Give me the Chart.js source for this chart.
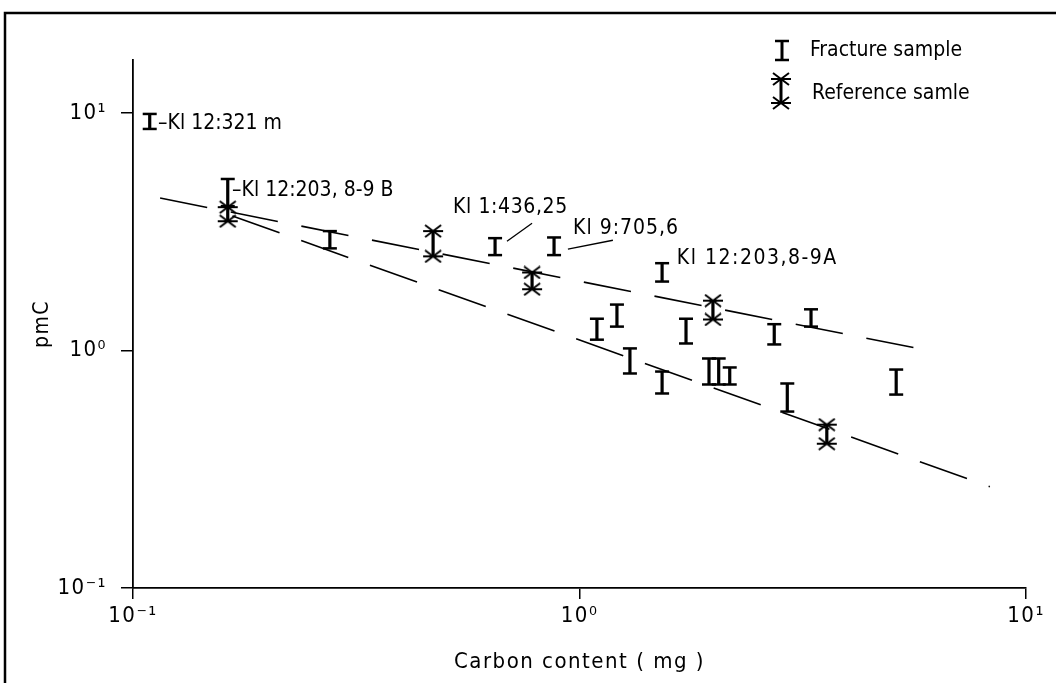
<!DOCTYPE html>
<html>
<head>
<meta charset="utf-8">
<script src="https://cdn.jsdelivr.net/npm/chart.js@4.4.1/dist/chart.umd.min.js"></script>
<style>
  body { margin: 0; background: #fff; }
  #graph { display: block; }
</style>
</head>
<body>
<canvas id="graph" width="1056" height="683"></canvas>
<script>
// Fracture samples: carbon content (mg), pmC low / high end of the bar
const fracX    = [0.109, 0.163, 0.276, 0.647, 0.877, 1.094, 1.213, 1.297, 1.531, 1.531, 1.732, 1.95, 2.05, 2.17, 2.73, 2.92, 3.30, 5.12];
const fracLow  = [8.56, 4.05, 2.69, 2.52, 2.52, 1.11, 1.26, 0.80, 1.95, 0.659, 1.07, 0.719, 0.719, 0.719, 1.06, 0.553, 1.26, 0.652];
const fracHigh = [9.90, 5.27, 3.18, 2.97, 2.99, 1.36, 1.56, 1.02, 2.33, 0.815, 1.36, 0.925, 0.925, 0.848, 1.29, 0.726, 1.49, 0.831];

// Reference samples
const refX    = [0.163, 0.470, 0.783, 1.99, 3.58];
const refLow  = [3.50, 2.49, 1.81, 1.35, 0.405];
const refHigh = [4.01, 3.18, 2.13, 1.62, 0.487];

// dashed trend lines (end points)
const upperLineX = [0.115, 5.88];
const upperLineY = [4.38, 1.01];
const lowerLineX = [0.167, 8.30];
const lowerLineY = [3.68, 0.267];

// sample names next to points
const noteText = ['\u2013Kl 12:321 m', '\u2013Kl 12:203, 8-9 B', 'Kl 1:436,25', 'Kl 9:705,6', 'Kl 12:203,8-9A'];
const noteX = [0.1138, 0.1667, 0.521, 0.967, 1.652];
const noteY = [8.99, 4.69, 4.01, 3.27, 2.44];
const noteSpacing = [0, 0, 0.6, 1, 1.5];

// short leader lines from two of the names
const leaderX = [[0.688, 0.783], [0.942, 1.188]];
const leaderY = [[2.88, 3.43], [2.67, 2.91]];

const tickValues = [0.1, 1, 10];
const tickLabels = ['10\u207B\u00B9', '10\u2070', '10\u00B9'];
const legendLabels = ['Fracture sample', 'Reference samle'];

const FONT = "'DejaVu Sans Condensed', 'Liberation Sans Narrow', 'DejaVu Sans', sans-serif";

// end cap of a reference bar: flat bar with a cross through it
function makeStarCap() {
    const c = document.createElement('canvas');
    c.width = 22;
    c.height = 14;
    const g = c.getContext('2d');
    g.strokeStyle = '#000';
    g.lineWidth = 2;
    g.beginPath();
    g.moveTo(1, 7); g.lineTo(21, 7);
    g.moveTo(3, 1); g.lineTo(19, 13);
    g.moveTo(3, 13); g.lineTo(19, 1);
    g.stroke();
    return c;
}
const starCap = makeStarCap();

const datasets = [];

fracX.forEach((x, i) => {
    datasets.push({
        data: [{x: x, y: fracLow[i]}, {x: x, y: fracHigh[i]}],
        showLine: true,
        borderColor: '#000',
        borderWidth: 3.2,
        pointStyle: 'line',
        pointRadius: 7,
        pointHoverRadius: 7,
        pointBorderWidth: 2.5,
        pointBorderColor: '#000'
    });
});

refX.forEach((x, i) => {
    datasets.push({
        data: [{x: x, y: refLow[i]}, {x: x, y: refHigh[i]}],
        showLine: true,
        borderColor: '#000',
        borderWidth: 3.2,
        pointStyle: starCap,
        pointRadius: 8,
        pointHoverRadius: 8
    });
});

datasets.push({
    data: upperLineX.map((x, i) => ({x: x, y: upperLineY[i]})),
    showLine: true,
    borderColor: '#000',
    borderWidth: 1.6,
    borderDash: [48, 24],
    pointRadius: 0
});
datasets.push({
    data: lowerLineX.map((x, i) => ({x: x, y: lowerLineY[i]})),
    showLine: true,
    borderColor: '#000',
    borderWidth: 1.6,
    borderDash: [50, 23],
    pointRadius: 0
});

leaderX.forEach((xs, i) => {
    datasets.push({
        data: xs.map((x, j) => ({x: x, y: leaderY[i][j]})),
        showLine: true,
        borderColor: '#000',
        borderWidth: 1.3,
        pointRadius: 0
    });
});

// draw a bar with caps, used for the legend icons
function drawBar(ctx, x, top, bottom, star) {
    ctx.lineWidth = 3;
    ctx.beginPath();
    ctx.moveTo(x, top);
    ctx.lineTo(x, bottom);
    ctx.stroke();
    if (star) {
        ctx.drawImage(starCap, x - 11, top - 7);
        ctx.drawImage(starCap, x - 11, bottom - 7);
    } else {
        ctx.lineWidth = 2.5;
        ctx.beginPath();
        ctx.moveTo(x - 7, top); ctx.lineTo(x + 7, top);
        ctx.moveTo(x - 7, bottom); ctx.lineTo(x + 7, bottom);
        ctx.stroke();
    }
}

const frame = {
    id: 'frame',
    beforeDraw(chart) {
        const ctx = chart.ctx;
        ctx.save();
        ctx.fillStyle = '#fff';
        ctx.fillRect(0, 0, chart.width, chart.height);
        ctx.strokeStyle = '#000';
        ctx.lineWidth = 2.5;
        ctx.beginPath();
        ctx.moveTo(5, chart.height);
        ctx.lineTo(5, 13);
        ctx.lineTo(chart.width, 13);
        ctx.stroke();
        ctx.restore();
        // the lettering on the original is widely spaced
        ctx.letterSpacing = '1.5px';
    }
};

const notes = {
    id: 'notes',
    afterDatasetsDraw(chart) {
        const ctx = chart.ctx;
        const xs = chart.scales.x, ys = chart.scales.y;
        ctx.save();
        ctx.fillStyle = '#000';
        ctx.strokeStyle = '#000';
        ctx.font = '21px ' + FONT;
        ctx.textBaseline = 'middle';
        noteText.forEach((t, i) => {
            ctx.letterSpacing = noteSpacing[i] + 'px';
            ctx.fillText(t, xs.getPixelForValue(noteX[i]), ys.getPixelForValue(noteY[i]));
        });

        // legend, top right
        ctx.letterSpacing = '0px';
        drawBar(ctx, 782, 41, 60, false);
        drawBar(ctx, 781, 79, 103, true);
        ctx.font = '21px ' + FONT;
        ctx.fillText(legendLabels[0], 810, 51);
        ctx.fillText(legendLabels[1], 812, 94);
        ctx.restore();
    }
};

const axisCommon = {
    type: 'logarithmic',
    grid: {
        display: true,
        drawOnChartArea: false,
        drawTicks: true,
        tickLength: 12,
        color: '#000',
        lineWidth: 1.5
    },
    border: {display: true, color: '#000', width: 1.8},
    afterBuildTicks: s => {
        s.ticks = tickValues.map(v => ({value: v, major: true}));
    },
    ticks: {
        color: '#000',
        font: {family: FONT, size: 22},
        autoSkip: false,
        maxRotation: 0,
        callback: v => {
            const i = tickValues.findIndex(t => Math.abs(t - v) < 1e-9);
            return i >= 0 ? tickLabels[i] : '';
        }
    }
};

const config = {
    type: 'scatter',
    data: {datasets: datasets},
    options: {
        responsive: false,
        animation: false,
        devicePixelRatio: 1,
        layout: {padding: {top: 60, right: 30, left: 0, bottom: 0}},
        scales: {
            x: Object.assign({}, axisCommon, {
                min: 0.1,
                max: 10,
                ticks: Object.assign({}, axisCommon.ticks, {padding: 4}),
                grid: Object.assign({}, axisCommon.grid, {tickLength: 11}),
                afterFit: s => { s.height = 95; },
                title: {
                    display: true,
                    text: 'Carbon content ( mg )',
                    color: '#000',
                    font: {family: FONT, size: 22},
                    padding: {top: 0, bottom: 8}
                }
            }),
            y: Object.assign({}, axisCommon, {
                min: 0.1,
                max: 16.7,
                ticks: Object.assign({}, axisCommon.ticks, {padding: 14}),
                afterFit: s => { s.width = 133; },
                title: {
                    display: true,
                    text: 'pmC',
                    color: '#000',
                    font: {family: FONT, size: 21},
                    padding: {top: 30, bottom: 0}
                }
            })
        },
        plugins: {
            legend: {display: false},
            tooltip: {enabled: false}
        }
    },
    plugins: [frame, notes]
};

new Chart(document.getElementById('graph').getContext('2d'), config);
</script>
</body>
</html>
